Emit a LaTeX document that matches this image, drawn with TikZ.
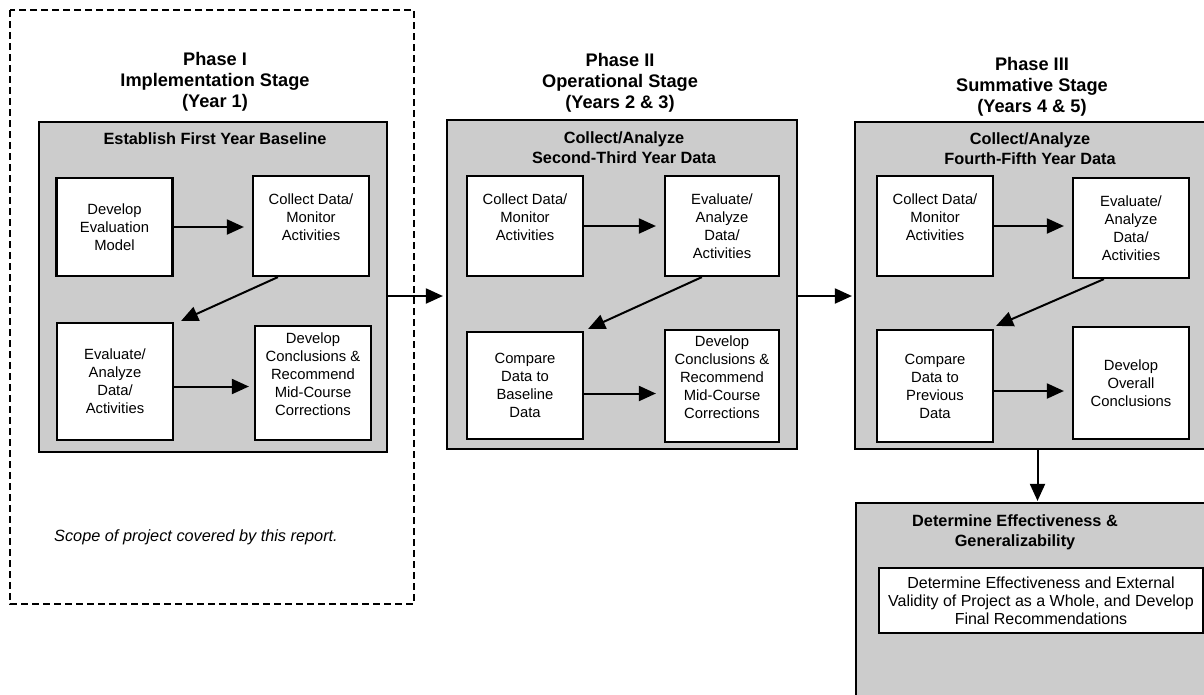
\documentclass[tikz,border=0pt]{standalone}
\usepackage{xcolor}
\usepackage{fontspec}
\setmainfont{Liberation Sans}
\usepackage{tikz}
\usetikzlibrary{arrows.meta}

\definecolor{stagegray}{RGB}{204,204,204}

\begin{document}
\begin{tikzpicture}[x=1pt,y=-1pt]
        \tikzstyle{every node}=[font=\fontsize{14.8pt}{18pt}\selectfont,align=center,inner sep=0pt]
        \tikzstyle{stage}=[draw,line width=2.2pt,fill=stagegray]
        \tikzstyle{task}=[draw,line width=2.2pt,fill=white,minimum width=116pt]
        \tikzstyle{phase}=[font=\bfseries\fontsize{18.2pt}{21pt}\selectfont]
        \tikzstyle{stagetitle}=[font=\bfseries\fontsize{16.3pt}{20pt}\selectfont]
        \tikzstyle{flow}=[line width=2pt,-{Triangle[length=17pt,width=15pt]},shorten >=8pt]
        \useasboundingbox (0,0) rectangle (1204,694);
        \clip (0,0) rectangle (1204,694);
        \draw[line width=2.4pt,dash pattern=on 7pt off 4pt] (10,10) rectangle (414,604);
        \node[font=\itshape\fontsize{16.3pt}{18pt}\selectfont] (scope) at (196,537) {Scope of project covered by this report.};

        \node[phase] (phase1) at (215,82) {Phase I\\Implementation Stage\\(Year 1)};
        \node[phase] (phase2) at (620,83) {Phase II\\Operational Stage\\(Years 2 \& 3)};
        \node[phase] (phase3) at (1032,87) {Phase III\\Summative Stage\\(Years 4 \& 5)};

        \node[stage,minimum width=348pt,minimum height=330pt] (stage1) at (213,287) {};
        \node[stage,minimum width=350pt,minimum height=329pt] (stage2) at (622,284.5) {};
        \node[stage,minimum width=365pt,minimum height=327pt] (stage3) at (1037.5,285.5) {};
        \node[stage,minimum width=363pt,minimum height=260pt] (stage4) at (1037.5,633) {};

        \node[stagetitle] (title1) at (215,139) {Establish First Year Baseline};
        \node[stagetitle] (title2) at (624,148) {Collect/Analyze\\Second-Third Year Data};
        \node[stagetitle] (title3) at (1030,149) {Collect/Analyze\\Fourth-Fifth Year Data};
        \node[stagetitle] (title4) at (1015,532) {Determine Effectiveness \&\\Generalizability};

        \node[task,minimum height=98pt] (model1) at (114.5,227) {Develop\\Evaluation\\Model};
        \node[task,minimum height=100pt] (collect1) at (311,226) {Collect Data/\\Monitor\\Activities\\\mbox{}};
        \node[task,minimum height=117pt] (evaluate1) at (115,381.5) {Evaluate/\\Analyze\\Data/\\Activities};
        \node[task,minimum height=114pt] (conclude1) at (313,383) {Develop\\Conclusions \&\\Recommend\\Mid-Course\\Corrections\\\mbox{}};

        \node[task,minimum height=100pt] (collect2) at (525,226) {Collect Data/\\Monitor\\Activities\\\mbox{}};
        \node[task,minimum width=114pt,minimum height=100pt] (evaluate2) at (722,226) {Evaluate/\\Analyze\\Data/\\Activities};
        \node[task,minimum height=107pt] (compare2) at (525,385.5) {Compare\\Data to\\Baseline\\Data};
        \node[task,minimum width=114pt,minimum height=112pt] (conclude2) at (722,386) {Develop\\Conclusions \&\\Recommend\\Mid-Course\\Corrections\\\mbox{}};

        \node[task,minimum height=100pt] (collect3) at (935,226) {Collect Data/\\Monitor\\Activities\\\mbox{}};
        \node[task,minimum height=100pt] (evaluate3) at (1131,228) {Evaluate/\\Analyze\\Data/\\Activities};
        \node[task,minimum height=112pt] (compare3) at (935,386) {Compare\\Data to\\Previous\\Data};
        \node[task,minimum height=112pt] (overall3) at (1131,383) {Develop\\Overall\\Conclusions};

        \node[task,minimum width=324pt,minimum height=65pt,font=\fontsize{16pt}{18pt}\selectfont] (final4) at (1041,600.5) {Determine Effectiveness and External\\Validity of Project as a Whole, and Develop\\Final Recommendations};

        \draw[flow] (model1.east) -- (model1.east -| collect1.west);
        \draw[flow,shorten >=0pt] ([xshift=26pt]collect1.south west) -- ([xshift=7pt,yshift=1pt]evaluate1.north east);
        \draw[flow,shorten >=5pt] ([yshift=-5pt]evaluate1.east) -- ([yshift=-5pt]evaluate1.east -| conclude1.west);

        \draw[flow] (collect2.east) -- (collect2.east -| evaluate2.west);
        \draw[flow,shorten >=0pt] ([xshift=38pt]evaluate2.south west) -- ([xshift=4pt,yshift=2pt]compare2.north east);
        \draw[flow] ([yshift=-8pt]compare2.east) -- ([yshift=-8pt]compare2.east -| conclude2.west);

        \draw[flow] (collect3.east) -- (collect3.east -| evaluate3.west);
        \draw[flow,shorten >=0pt] ([xshift=32pt]evaluate3.south west) -- ([xshift=2pt,yshift=3pt]compare3.north east);
        \draw[flow] ([yshift=-5pt]compare3.east) -- ([yshift=-5pt]compare3.east -| overall3.west);

        \draw[flow,shorten >=3pt] ([yshift=-9pt]stage1.east) -- ([yshift=-9pt]stage1.east -| stage2.west);
        \draw[flow,shorten >=2pt] ([yshift=-11.5pt]stage2.east) -- ([yshift=-11.5pt]stage2.east -| stage3.west);
        \draw[flow,shorten >=1pt] (stage3.south) -- (stage4.north);
\end{tikzpicture}
\end{document}
